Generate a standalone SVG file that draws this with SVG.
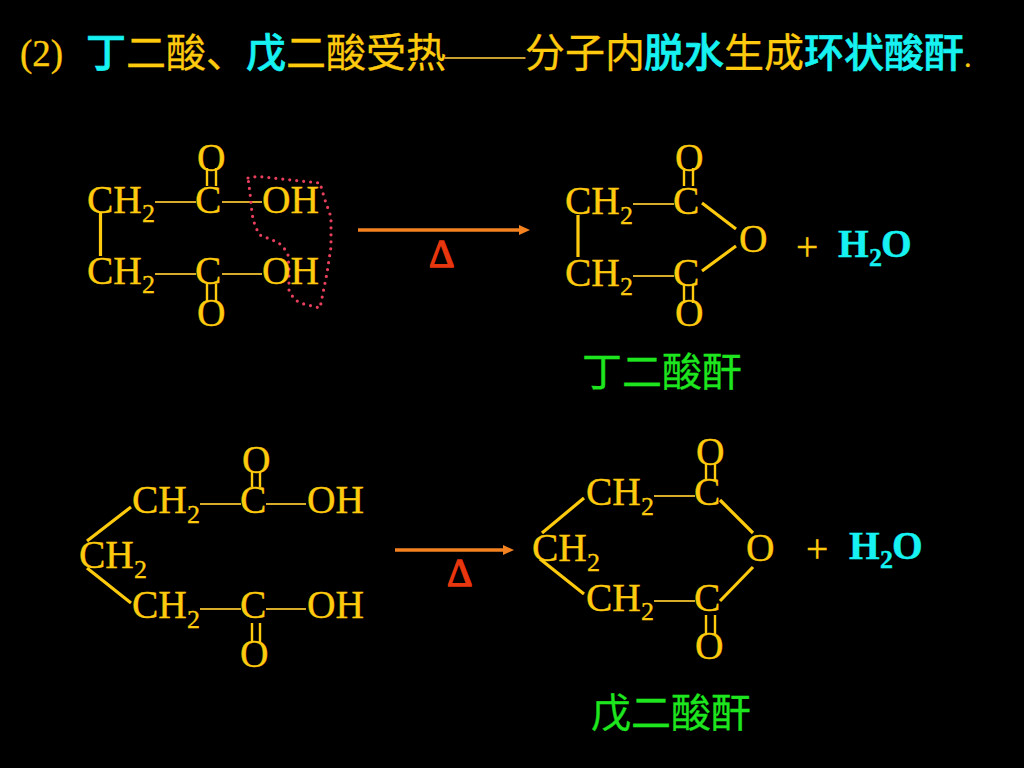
<svg xmlns="http://www.w3.org/2000/svg" width="1024" height="768" viewBox="0 0 1024 768">
<style>
text{font-family:"Liberation Serif",serif;font-size:39.500px;fill:#fdca0e;stroke:#fdca0e;stroke-width:.35}
.sub{font-size:26px}
.cjk{font-family:"Noto Sans CJK SC",sans-serif;font-size:40px;stroke-width:.3}
.cy{fill:#16f2f2;stroke:#16f2f2;font-weight:500;stroke-width:.6}
.g{fill:#1ee61e;stroke:#1ee61e}
.w{fill:#16f2f2;stroke:#16f2f2;font-weight:700;font-family:"Liberation Serif",serif}
.d{fill:#e8360e;stroke:#e8360e;stroke-width:1.500}
.bond{stroke:#fdca0e;stroke-width:3.200;fill:none}
.thin{stroke:#d8ab28;stroke-width:1.800;fill:none}
.dbl{stroke:#fdca0e;stroke-width:2.400;fill:none}
.line{stroke:#f58220;stroke-width:3.400;fill:none}
.head{fill:#f58220}
</style>
<rect width="1024" height="768" fill="#000"/>
<g id="title">
<text x="20" y="66" style="font-size:37px">(2)</text>
<text class="cjk" y="67"><tspan class="cy" x="86">丁</tspan><tspan x="126">二酸、</tspan><tspan class="cy" x="246">戊</tspan><tspan x="286">二酸受热</tspan></text>
<text x="445" y="67" style="fill:#c8a030;stroke:none;font-size:40px">——</text>
<text class="cjk" y="67"><tspan x="525">分子内</tspan><tspan class="cy" x="644">脱水</tspan><tspan x="724">生成</tspan><tspan class="cy" x="804">环状酸酐</tspan></text>
<text x="964" y="67" style="font-size:30px">.</text>
</g>
<g id="connectors">
<path class="bond" d="M100.500 213V256M578 215V257"/>
<path class="thin" d="M155 202H196M222 202H262M155 274H196M222 274H262"/>
<path class="dbl" d="M207 168V186M216 168V186M207 284V302M216 284V302"/>
<path class="thin" d="M633 204H674M633 276H674"/>
<path class="dbl" d="M684 168V186M693 168V186M684 285V303M693 285V303"/>
<path class="bond" d="M702 203L736 229M736 246L702 271"/>
<path class="bond" d="M131 507L87 541M87 568L131 603"/>
<path class="thin" d="M200 504H241M266 504H306M200 609H241M266 609H306"/>
<path class="dbl" d="M252 472V487M260 472V487M252 623V642M260 623V642"/>
<path class="bond" d="M584 498L542 533M540 559L584 594M720 500L753 533M753 567L720 601"/>
<path class="thin" d="M654 496H695M654 601H695"/>
<path class="dbl" d="M706 463V480M715 463V480M706 615V634M715 615V634"/>
<g id="arrow-1"><path class="line" d="M358 230H522"/><path class="head" d="M519 225L530 230L519 235Z"/></g>
<g id="arrow-2"><path class="line" d="M395 550H505"/><path class="head" d="M503 545L514 550L503 555Z"/></g>
</g>
<path id="dotted-outline" d="M248 178Q255 176 263 177L320 183Q322 190 325 200L331 217V247L327 273L320 308L300 303Q292 298 289 290V268L288 255Q284 246 277 242L260 235Q254 226 252 213L250 193Z" fill="none" stroke="#e8405c" stroke-width="3.200" stroke-linecap="round" stroke-dasharray="0 7"/>
<g id="succinic-acid">
<g id="a-ch2-1"><text x="87" y="213">CH<tspan class="sub" x="142" y="222">2</tspan></text></g>
<g id="a-ch2-2"><text x="87" y="284">CH<tspan class="sub" x="142" y="293">2</tspan></text></g>
<g id="a-o-1"><text x="197" y="171">O</text></g>
<g id="a-c-1"><text x="195" y="213">C</text></g>
<g id="a-oh-1"><text x="262" y="213">OH</text></g>
<g id="a-c-2"><text x="195" y="284">C</text></g>
<g id="a-oh-2"><text x="262" y="284">OH</text></g>
<g id="a-o-2"><text x="197" y="326">O</text></g>
</g>
<g id="delta-1"><text class="d" x="429" y="267">Δ</text></g>
<g id="succinic-anhydride">
<g id="b-ch2-1"><text x="565" y="214">CH<tspan class="sub" x="620" y="224">2</tspan></text></g>
<g id="b-ch2-2"><text x="565" y="286">CH<tspan class="sub" x="620" y="295">2</tspan></text></g>
<g id="b-o-1"><text x="675" y="171">O</text></g>
<g id="b-c-1"><text x="673" y="214">C</text></g>
<g id="b-c-2"><text x="673" y="286">C</text></g>
<g id="b-o-2"><text x="675" y="326">O</text></g>
<g id="b-o-ring"><text x="739" y="252">O</text></g>
<g id="b-plus"><text x="796" y="260">+</text></g>
<g id="b-water"><text class="w" x="838" y="257">H<tspan class="w sub" x="869" y="266">2</tspan><tspan x="881" y="257">O</tspan></text></g>
<g id="b-name"><text class="cjk g" x="582" y="386">丁二酸酐</text></g>
</g>
<g id="glutaric-acid">
<g id="c-ch2-1"><text x="132" y="513">CH<tspan class="sub" x="187" y="523">2</tspan></text></g>
<g id="c-ch2-m"><text x="79" y="568">CH<tspan class="sub" x="134" y="578">2</tspan></text></g>
<g id="c-ch2-2"><text x="132" y="618">CH<tspan class="sub" x="187" y="628">2</tspan></text></g>
<g id="c-o-1"><text x="242" y="473">O</text></g>
<g id="c-c-1"><text x="240" y="513">C</text></g>
<g id="c-oh-1"><text x="307" y="513">OH</text></g>
<g id="c-c-2"><text x="240" y="618">C</text></g>
<g id="c-oh-2"><text x="307" y="618">OH</text></g>
<g id="c-o-2"><text x="240" y="667">O</text></g>
</g>
<g id="delta-2"><text class="d" x="447" y="586">Δ</text></g>
<g id="glutaric-anhydride">
<g id="d-ch2-1"><text x="586" y="505">CH<tspan class="sub" x="641" y="515">2</tspan></text></g>
<g id="d-ch2-m"><text x="532" y="561">CH<tspan class="sub" x="587" y="571">2</tspan></text></g>
<g id="d-ch2-2"><text x="586" y="611">CH<tspan class="sub" x="641" y="620">2</tspan></text></g>
<g id="d-o-1"><text x="696" y="465">O</text></g>
<g id="d-c-1"><text x="694" y="505">C</text></g>
<g id="d-c-2"><text x="694" y="611">C</text></g>
<g id="d-o-2"><text x="695" y="659">O</text></g>
<g id="d-o-ring"><text x="746" y="561">O</text></g>
<g id="d-plus"><text x="806" y="562">+</text></g>
<g id="d-water"><text class="w" x="849" y="559">H<tspan class="w sub" x="880" y="568">2</tspan><tspan x="892" y="559">O</tspan></text></g>
<g id="d-name"><text class="cjk g" x="591" y="727">戊二酸酐</text></g>
</g>
</svg>
